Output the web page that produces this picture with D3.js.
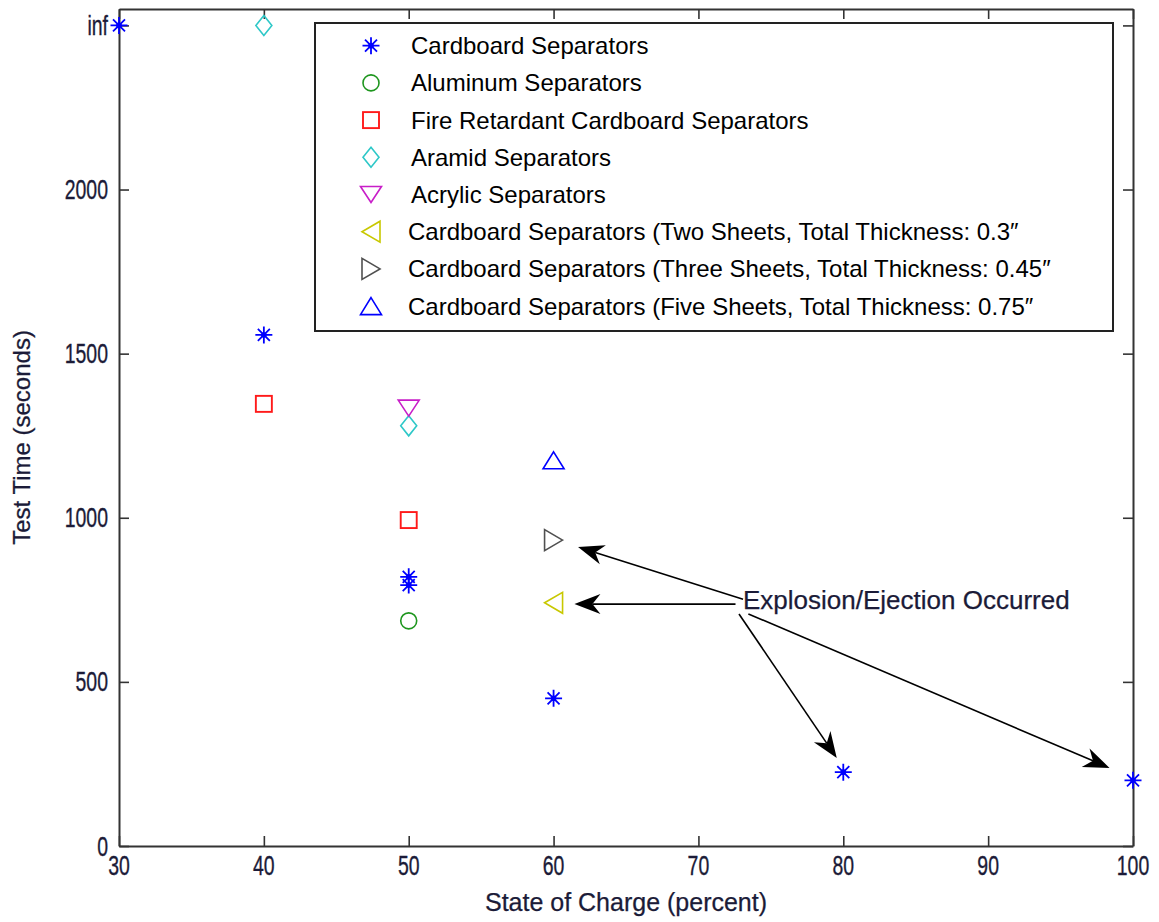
<!DOCTYPE html>
<html>
<head>
<meta charset="utf-8">
<script src="https://cdn.jsdelivr.net/npm/d3@7"></script>
<style>
  html, body { margin: 0; padding: 0; background: #fff; }
  svg { display: block; }
  text { font-family: "Liberation Sans", Arial, Helvetica, sans-serif; }
</style>
</head>
<body>
<svg id="chart" width="1159" height="922"></svg>
<script>
// ---------- data ----------
const INF = 2500; // position used for "inf"
const xTicks = [30, 40, 50, 60, 70, 80, 90, 100];
const yTicks = [0, 500, 1000, 1500, 2000, 2500];
const yTickLabels = ["0", "500", "1000", "1500", "2000", "inf"];

const cardboardX = [30, 40, 50, 50, 60, 80, 100];
const cardboardY = [INF, 1557, 820, 795, 450, 225, 200];
const aluminumX = [50];
const aluminumY = [686];
const fireX = [40, 50];
const fireY = [1347, 993];
const aramidX = [40, 50];
const aramidY = [INF, 1280];
const acrylicX = [50];
const acrylicY = [1334];
const twoSheetsX = [60];
const twoSheetsY = [741];
const threeSheetsX = [60];
const threeSheetsY = [932];
const fiveSheetsX = [60];
const fiveSheetsY = [1175];

const seriesNames = [
  "Cardboard Separators",
  "Aluminum Separators",
  "Fire Retardant Cardboard Separators",
  "Aramid Separators",
  "Acrylic Separators",
  "Cardboard Separators (Two Sheets, Total Thickness: 0.3\u2033",
  "Cardboard Separators (Three Sheets, Total Thickness: 0.45\u2033",
  "Cardboard Separators (Five Sheets, Total Thickness: 0.75\u2033"
];

const annotationText = "Explosion/Ejection Occurred";
const annotationAt = [73.08, 722];
// arrows: from / to in data units
const arrowFromX = [73.08, 72.56, 72.8, 73.45];
const arrowFromY = [752, 737, 707, 707];
const arrowToX = [61.69, 61.44, 79.55, 98.38];
const arrowToY = [911, 737, 268, 238];

// ---------- layout ----------
const svg = d3.select("#chart");
const x = d3.scaleLinear().domain([30, 100]).range([119, 1133]);
const y = d3.scaleLinear().domain([0, 2550]).range([846, 9]);

const axisColor = "#333";
const labelColor = "#1b1b38";

// frame & ticks
const tickLen = 10;
const gAxes = svg.append("g");
function styleAxis(g) {
  g.selectAll(".domain").attr("stroke", axisColor).attr("stroke-width", 2);
  g.selectAll(".tick line").attr("stroke", axisColor).attr("stroke-width", 1.6);
  g.selectAll(".tick text").remove();
}
gAxes.append("g").attr("transform", `translate(0,${y(0)})`)
  .call(d3.axisBottom(x).tickValues(xTicks).tickSizeInner(-tickLen).tickSizeOuter(0))
  .call(styleAxis);
gAxes.append("g").attr("transform", `translate(0,${y(2550)})`)
  .call(d3.axisTop(x).tickValues(xTicks).tickSizeInner(-tickLen).tickSizeOuter(0))
  .call(styleAxis);
gAxes.append("g").attr("transform", `translate(${x(30)},0)`)
  .call(d3.axisLeft(y).tickValues(yTicks).tickSizeInner(-tickLen).tickSizeOuter(0))
  .call(styleAxis);
gAxes.append("g").attr("transform", `translate(${x(100)},0)`)
  .call(d3.axisRight(y).tickValues(yTicks).tickSizeInner(-tickLen).tickSizeOuter(0))
  .call(styleAxis);

// tick labels (condensed look)
const squeeze = 0.72;
svg.append("g").selectAll("text").data(xTicks).join("text")
  .attr("transform", d => `translate(${x(d)},875) scale(${squeeze},1)`)
  .attr("text-anchor", "middle")
  .attr("font-size", 27)
  .attr("fill", labelColor).attr("stroke", labelColor).attr("stroke-width", 0.35)
  .text(d => d);
svg.append("g").selectAll("text").data(yTicks).join("text")
  .attr("transform", d => `translate(108,${y(d) + 9.5}) scale(${squeeze},1)`)
  .attr("text-anchor", "end")
  .attr("font-size", 27)
  .attr("fill", labelColor).attr("stroke", labelColor).attr("stroke-width", 0.35)
  .text((d, i) => yTickLabels[i]);

// axis titles
svg.append("text")
  .attr("x", (x(30) + x(100)) / 2).attr("y", 911)
  .attr("text-anchor", "middle").attr("font-size", 25).attr("fill", labelColor)
  .attr("stroke", labelColor).attr("stroke-width", 0.25)
  .text("State of Charge (percent)");
svg.append("text")
  .attr("transform", `translate(30,${(y(0) + y(2550)) / 2 + 10}) rotate(-90)`)
  .attr("text-anchor", "middle").attr("font-size", 24).attr("fill", labelColor)
  .attr("stroke", labelColor).attr("stroke-width", 0.25)
  .text("Test Time (seconds)");

// ---------- markers ----------
function drawMarker(g, type, cx, cy, color) {
  const sw = 1.6;
  if (type === "star") {
    const r = 8.5, d = 6;
    const p = `M${cx - r},${cy}L${cx + r},${cy}M${cx},${cy - r}L${cx},${cy + r}` +
      `M${cx - d},${cy - d}L${cx + d},${cy + d}M${cx - d},${cy + d}L${cx + d},${cy - d}`;
    g.append("path").attr("d", p).attr("stroke", color).attr("stroke-width", 1.8).attr("fill", "none");
    g.append("circle").attr("cx", cx).attr("cy", cy).attr("r", 2.8).attr("fill", color);
  } else if (type === "circle") {
    g.append("circle").attr("cx", cx).attr("cy", cy).attr("r", 8)
      .attr("stroke", color).attr("stroke-width", sw).attr("fill", "none");
  } else if (type === "square") {
    g.append("rect").attr("x", cx - 8).attr("y", cy - 8).attr("width", 16).attr("height", 16)
      .attr("stroke", color).attr("stroke-width", 1.9).attr("fill", "none");
  } else {
    let pts;
    if (type === "diamond") pts = [[0, -10], [8, 0], [0, 10], [-8, 0]];
    if (type === "down") pts = [[-10.5, -8], [10.5, -8], [0, 8]];
    if (type === "up") pts = [[0, -8.5], [10.5, 8.5], [-10.5, 8.5]];
    if (type === "left") pts = [[-9, 0], [9, -10.5], [9, 10.5]];
    if (type === "right") pts = [[9, 0], [-9, -10.5], [-9, 10.5]];
    g.append("path").attr("d", "M" + pts.map(p => [cx + p[0], cy + p[1]].join(",")).join("L") + "Z")
      .attr("stroke", color).attr("stroke-width", sw).attr("fill", "none").attr("stroke-linejoin", "miter");
  }
}

const series = [
  { xs: cardboardX, ys: cardboardY, type: "star", color: "#0000ff" },
  { xs: aluminumX, ys: aluminumY, type: "circle", color: "#1e961e" },
  { xs: fireX, ys: fireY, type: "square", color: "#ff1a1a" },
  { xs: aramidX, ys: aramidY, type: "diamond", color: "#2ec8c8" },
  { xs: acrylicX, ys: acrylicY, type: "down", color: "#c81ec8" },
  { xs: twoSheetsX, ys: twoSheetsY, type: "left", color: "#c8c800" },
  { xs: threeSheetsX, ys: threeSheetsY, type: "right", color: "#505050" },
  { xs: fiveSheetsX, ys: fiveSheetsY, type: "up", color: "#0000ff" }
];

const gPts = svg.append("g");
series.forEach(s => {
  s.xs.forEach((xv, i) => drawMarker(gPts, s.type, x(xv), y(s.ys[i]), s.color));
});

// ---------- legend ----------
const lg = svg.append("g");
lg.append("rect").attr("x", 315).attr("y", 23).attr("width", 798).attr("height", 308)
  .attr("fill", "#fff").attr("stroke", "#222").attr("stroke-width", 2);
const rowY0 = 45.7, rowStep = 37.2;
series.forEach((s, i) => {
  const cy = rowY0 + i * rowStep;
  drawMarker(lg, s.type, 371, cy, s.color);
  lg.append("text").attr("x", i < 5 ? 411 : 408).attr("y", cy + 8.5)
    .attr("font-size", 24).attr("fill", "#000").text(seriesNames[i]);
});

// ---------- annotation ----------
const ga = svg.append("g");
ga.append("text").attr("x", x(annotationAt[0])).attr("y", y(annotationAt[1]))
  .attr("font-size", 26).attr("fill", labelColor)
  .attr("stroke", labelColor).attr("stroke-width", 0.25).text(annotationText);

arrowFromX.forEach((fx, i) => {
  const x1 = x(fx), y1 = y(arrowFromY[i]), x2 = x(arrowToX[i]), y2 = y(arrowToY[i]);
  const ang = Math.atan2(y2 - y1, x2 - x1);
  const L = 26, W = 10, N = 18;
  const cos = Math.cos(ang), sin = Math.sin(ang);
  const pt = (a, b) => [x2 + a * cos - b * sin, y2 + a * sin + b * cos];
  ga.append("line").attr("x1", x1).attr("y1", y1)
    .attr("x2", pt(-N, 0)[0]).attr("y2", pt(-N, 0)[1])
    .attr("stroke", "#000").attr("stroke-width", 1.6);
  const head = [pt(0, 0), pt(-L, -W), pt(-N, 0), pt(-L, W)];
  ga.append("path").attr("d", "M" + head.map(p => p.join(",")).join("L") + "Z").attr("fill", "#000");
});
</script>
</body>
</html>
